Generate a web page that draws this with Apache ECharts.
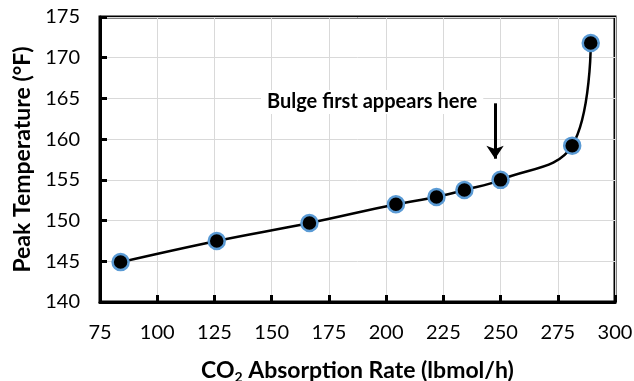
<!DOCTYPE html>
<html>
<head>
<meta charset="utf-8">
<script src="https://cdn.jsdelivr.net/npm/echarts@6/dist/echarts.min.js"></script>
<style>
  html, body { margin: 0; padding: 0; background: #fff; }
  #chart { width: 634px; height: 381px; }
</style>
</head>
<body>
<div id="chart"></div>
<script>
  // values
  var absorptionRate = [84, 126, 166.5, 204.3, 222, 234.2, 250, 281.3, 289.4];
  var peakTemp = [144.9, 147.5, 149.7, 152.0, 152.9, 153.75, 155.0, 159.2, 171.8];

  var arrowX = 247.6;
  var arrowFrom = 164.4;
  var arrowTo = 157.6;

  var font = 'Lato, "Open Sans", sans-serif';

  var points = absorptionRate.map(function (x, i) {
    return [x, peakTemp[i]];
  });

  var chart = echarts.init(document.getElementById('chart'));

  chart.setOption({
    animation: false,
    grid: {
      left: 100,
      right: 19,
      top: 17,
      bottom: 79,
      containLabel: false,
      outerBoundsMode: 'none',
      show: true,
      borderColor: '#000',
      borderWidth: 3
    },
    xAxis: {
      type: 'value',
      min: 75,
      max: 300,
      interval: 25,
      name: '{b|CO}{s|2}{b| Absorption Rate (lbmol/h)}',
      nameLocation: 'middle',
      nameGap: 56,
      nameTextStyle: {
        rich: {
          b: {fontFamily: font, fontWeight: 'bold', fontSize: 23, color: '#000'},
          s: {fontFamily: font, fontWeight: 'bold', fontSize: 14, color: '#000', verticalAlign: 'bottom', padding: [12, 0, 0, 0]}
        }
      },
      axisLine: {lineStyle: {color: '#000', width: 3}},
      axisTick: {inside: true, length: 7, lineStyle: {color: '#000', width: 3}},
      axisLabel: {fontFamily: font, fontSize: 20, color: '#000', margin: 21},
      splitLine: {lineStyle: {color: '#d9d9d9', width: 1}}
    },
    yAxis: {
      type: 'value',
      min: 140,
      max: 175,
      interval: 5,
      name: 'Peak Temperature (°F)',
      nameLocation: 'middle',
      nameGap: 66,
      nameTextStyle: {fontFamily: font, fontWeight: 'bold', fontSize: 23, color: '#000'},
      axisLine: {lineStyle: {color: '#000', width: 3}},
      axisTick: {inside: true, length: 7, lineStyle: {color: '#000', width: 3}},
      axisLabel: {fontFamily: font, fontSize: 20, color: '#000', margin: 20},
      splitLine: {lineStyle: {color: '#d9d9d9', width: 1}}
    },
    series: [{
      type: 'line',
      data: points,
      smooth: 0.4,
      symbol: 'circle',
      symbolSize: 16,
      lineStyle: {color: '#000', width: 2.5},
      itemStyle: {color: '#000', borderColor: '#5b9bd5', borderWidth: 2.5},
      markLine: {
        silent: true,
        symbol: ['none', 'arrow'],
        symbolSize: [13, 13],
        label: {show: false},
        lineStyle: {color: '#000', width: 3, type: 'solid'},
        data: [[{coord: [arrowX, arrowFrom]}, {coord: [arrowX, arrowTo]}]]
      }
    }],
    graphic: [{
      type: 'text',
      left: 261,
      top: 90,
      z: 10,
      style: {
        text: 'Bulge first appears here',
        fontFamily: font,
        fontWeight: 'bold',
        fontSize: 20,
        fill: '#000',
        backgroundColor: '#fff',
        padding: [2, 6]
      }
    }]
  });
</script>
</body>
</html>
